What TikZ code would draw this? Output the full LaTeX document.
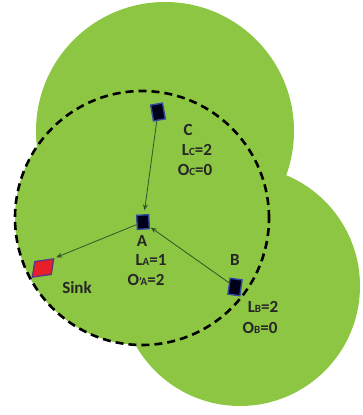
\documentclass[tikz,border=0pt]{standalone}
\usepackage{fontspec}
\setmainfont{Carlito}
\usetikzlibrary{arrows.meta,positioning}
\definecolor{rangegreen}{RGB}{141,198,66}
\definecolor{linkgreen}{RGB}{52,84,38}
\definecolor{sensorblue}{RGB}{52,72,160}
\definecolor{sinkred}{RGB}{232,30,40}
\tikzset{
  sensor/.style={draw=sensorblue, fill=black!90!blue, line width=1.4pt,
    minimum width=12pt, minimum height=16pt, inner sep=0pt},
  sinkbox/.style={draw=sensorblue!80!red, fill=sinkred, line width=1.4pt,
    minimum width=19pt, minimum height=15pt, inner sep=0pt},
  lbl/.style={font=\bfseries\fontsize{17}{19}\selectfont, text=black!85, inner sep=0pt},
  link/.style={draw=linkgreen, line width=0.8pt, -{Stealth[length=6pt,width=5pt]}, black},
}
\newcommand{\sub}[1]{{\fontsize{11}{11}\selectfont #1}}
\begin{document}
\begin{tikzpicture}[x=1pt, y=-1pt]
\useasboundingbox (0,0) rectangle (363,415);
% radio ranges
\fill[rangegreen] (165,131) circle[radius=129pt];
\fill[rangegreen] (240,286) circle[radius=120pt];
\fill[rangegreen] (142,218) circle[radius=127pt];
\draw[black, line width=2.6pt, dash pattern=on 8pt off 5pt] (142,218) circle[radius=127pt];

% sensors and sink
\node[sensor, rotate=10] (c) at (158,112) {};
\node[sensor, minimum height=14pt, rotate=3] (a) at (143,222) {};
\node[sensor, rotate=-8] (b) at (235,287) {};
\node[sinkbox, rotate=8, xslant=0.3] (sink) at (43,268) {};

% links
\draw[link, draw=linkgreen, shorten >=4pt] (c) -- (a);
\draw[link, draw=linkgreen, shorten >=1pt] (b) -- (a);
\draw[link, draw=linkgreen, shorten >=2pt] (a) -- (sink.north east);

% labels
\node[lbl] (lc) at (188,130) {C};
\node[lbl] (lcl) at (197,150) {L\sub{C}=2};
\node[lbl] (lco) at (195,170) {O\sub{C}=0};
\node[lbl] (la) at (142,241) {A};
\node[lbl] (lal) at (151,260) {L\sub{A}=1};
\node[lbl] (lao) at (146,280) {O\sub{'A}=2};
\node[lbl] (ls) at (77,288) {Sink};
\node[lbl] (lb) at (235,260) {B};
\node[lbl] (lbl) at (263,307) {L\sub{B}=2};
\node[lbl] (lbo) at (260,328) {O\sub{B}=0};
\end{tikzpicture}
\end{document}
